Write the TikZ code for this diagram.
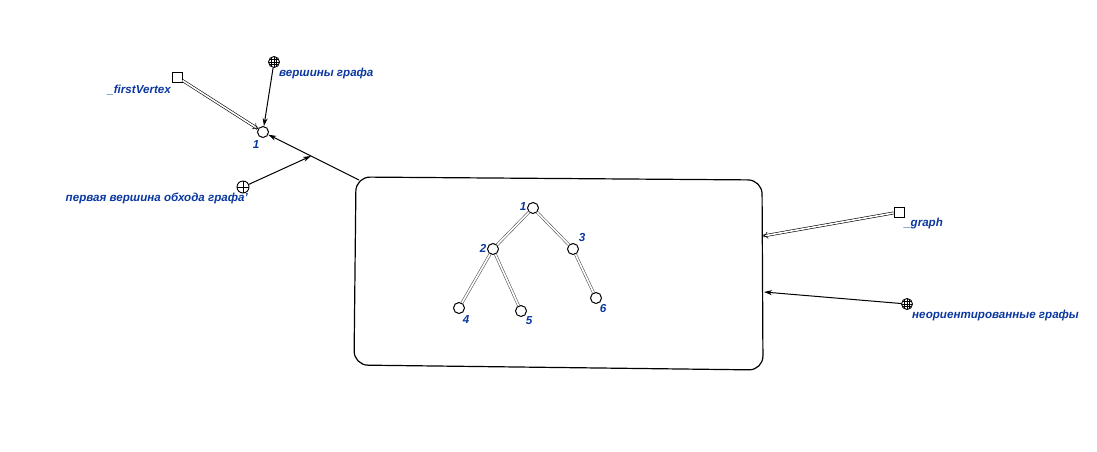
\documentclass[tikz,border=0pt]{standalone}
\usepackage{fontspec}
\setmainfont{Liberation Sans}
\usetikzlibrary{calc,arrows.meta}
\definecolor{lblblue}{RGB}{10,55,160}

\tikzset{
  lbl/.style={text=lblblue,font=\fontsize{11.6}{13}\selectfont\bfseries\itshape,inner sep=1pt},
  vtx/.style={circle,draw,line width=1pt,minimum size=11pt,inner sep=0pt},
  sqbox/.style={rectangle,draw,line width=1pt,minimum size=10pt,inner sep=0pt},
  globe/.style={circle,draw,line width=0.9pt,minimum size=11pt,inner sep=0pt,
    path picture={
      \foreach \d in {-2.6,0,2.6}{
        \draw[line width=0.5pt] ([xshift=\d pt]path picture bounding box.north) -- ([xshift=\d pt]path picture bounding box.south);
        \draw[line width=0.5pt] ([yshift=\d pt]path picture bounding box.west) -- ([yshift=\d pt]path picture bounding box.east);
      }}},
  cplus/.style={circle,draw,line width=0.9pt,minimum size=12pt,inner sep=0pt,
    path picture={
      \draw[line width=0.8pt] (path picture bounding box.north) -- (path picture bounding box.south);
      \draw[line width=0.8pt] (path picture bounding box.west) -- (path picture bounding box.east);
      }},
  dbl/.style={double,double distance=1.6pt,line width=0.6pt},
  arr/.style={-{Stealth[length=8pt,width=5pt]},line width=1pt},
  dblarr/.style={dbl,-{To[length=5pt,width=7pt]}}
}

\begin{document}
\begin{tikzpicture}[x=1pt,y=-1pt]
\useasboundingbox (0,0) rectangle (1097,451);

% box with the tree
\draw[line width=1.2pt,rounded corners=14pt] (356,177) -- (762,180) -- (763,370) -- (354,365) -- cycle;
\coordinate (boxTL) at (359,180);
\coordinate (boxR1) at (763,236);
\coordinate (boxR2) at (764,292);

% tree
\node[vtx] (t1) at (533,208) {};
\node[vtx] (t2) at (493,249) {};
\node[vtx] (t3) at (573,249) {};
\node[vtx] (t4) at (459,308) {};
\node[vtx] (t5) at (521,311) {};
\node[vtx] (t6) at (596,298) {};
\draw[dbl,gray!70!black] (t1) -- (t2);
\draw[dbl,gray!70!black] (t1) -- (t3);
\draw[dbl,gray!70!black] (t2) -- (t4);
\draw[dbl,gray!70!black] (t2) -- (t5);
\draw[dbl,gray!70!black] (t3) -- (t6);
\node[lbl] at (523,207) {1};
\node[lbl] at (483,248) {2};
\node[lbl] at (582,237) {3};
\node[lbl] at (466,320) {4};
\node[lbl] at (529,321) {5};
\node[lbl] at (603,308) {6};

% first vertex
\node[vtx] (fv) at (263,132) {};
\node[lbl] at (256,145) {1};
\node[sqbox] (sqFirst) at (177,77) {};
\node[lbl,anchor=east] at (172,90) {\_firstVertex};
\node[globe] (gVert) at (274,62) {};
\node[lbl,anchor=west] at (278,73) {вершины графа};
\node[cplus] (cpFirst) at (243,187) {};
\node[lbl,anchor=east] at (249,198) {первая вершина обхода графа'};

\draw[dblarr] (sqFirst) -- (fv);
\draw[arr] (gVert) -- (fv);
\draw[arr] (boxTL) -- (fv);
\coordinate (mid) at ($(boxTL)!0.5!(fv)$);
\draw[arr] (cpFirst) -- (mid);

% graph
\node[sqbox] (sqGraph) at (899,212) {};
\node[lbl,anchor=west] at (903,223) {\_graph};
\node[globe] (gUndir) at (907,304) {};
\node[lbl,anchor=west] at (911,315) {неориентированные графы};

\draw[dblarr] (sqGraph) -- (boxR1);
\draw[arr] (gUndir) -- (boxR2);
\end{tikzpicture}
\end{document}
